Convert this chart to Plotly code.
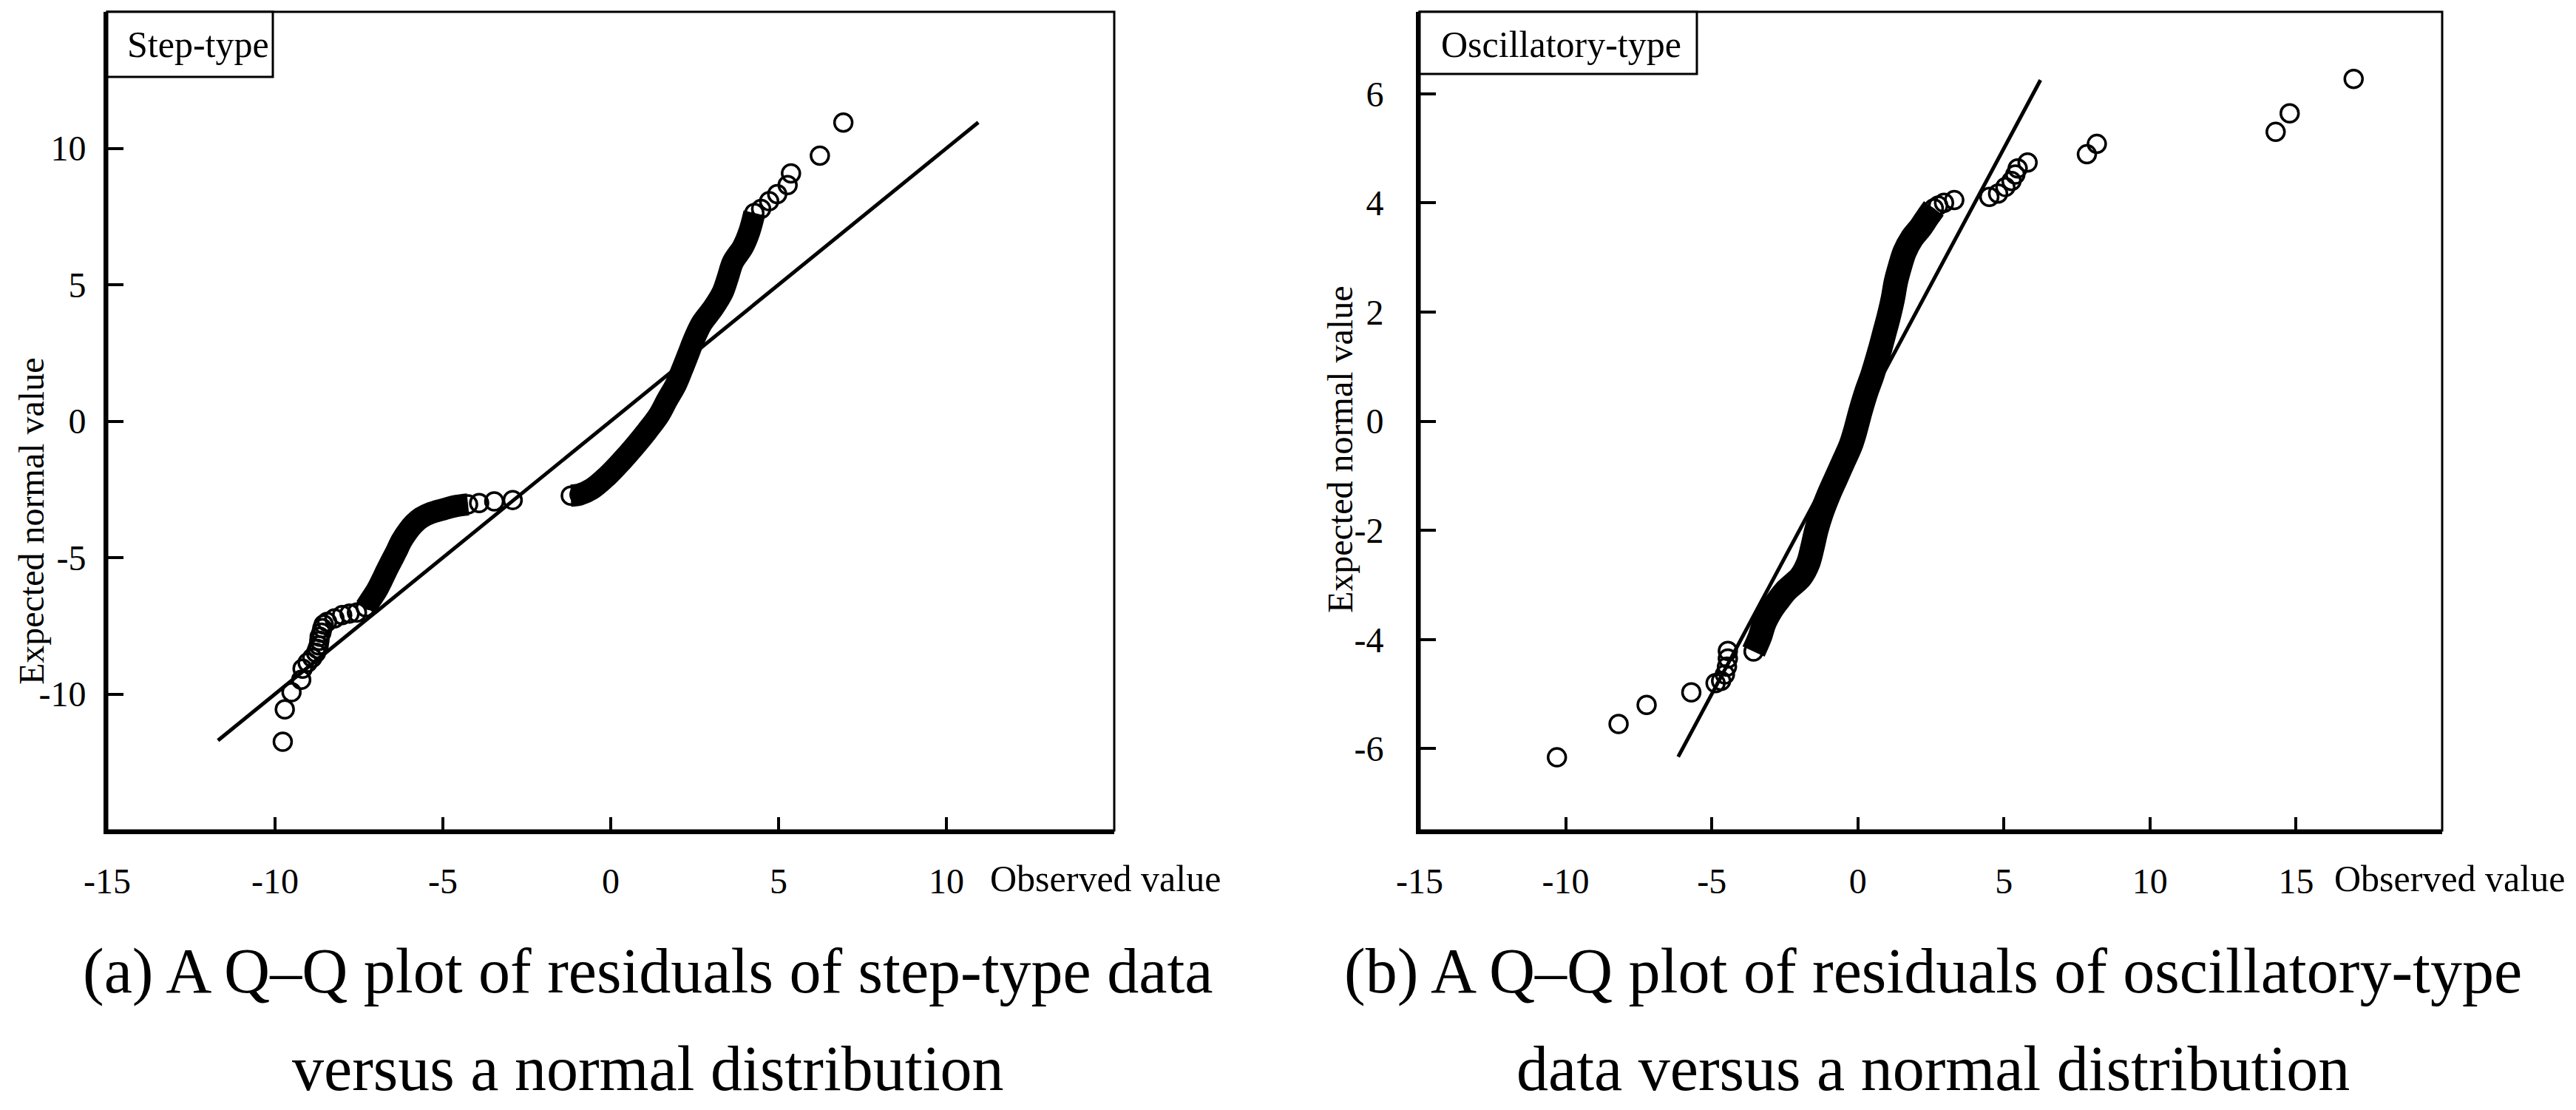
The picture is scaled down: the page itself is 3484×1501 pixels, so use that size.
import plotly.graph_objects as go

# Step-type residuals: dense band (upper cluster), dense band (lower cluster), loose points
step_band_hi_x = [-1.19, -0.93, -0.56, -0.12, 0.32, 0.72, 1.09, 1.43, 1.68, 1.94, 2.13,
                  2.31, 2.49, 2.71, 3.05, 3.33, 3.49, 3.64, 3.94, 4.13, 4.28]
step_band_hi_y = [-2.73, -2.69, -2.48, -2.03, -1.47, -0.91, -0.35, 0.21, 0.78, 1.34, 1.90,
                  2.46, 3.02, 3.58, 4.14, 4.71, 5.27, 5.83, 6.39, 6.95, 7.63]
step_band_lo_x = [-7.30, -7.16, -6.97, -6.82, -6.68, -6.53, -6.38, -6.24, -6.05, -5.87,
                  -5.65, -5.35, -4.98, -4.61, -4.25]
step_band_lo_y = [-6.82, -6.56, -6.20, -5.84, -5.48, -5.12, -4.76, -4.40, -4.04, -3.77,
                  -3.54, -3.36, -3.23, -3.11, -3.05]
step_pts_x = [-9.77, -9.71, -9.51, -9.22, -9.18, -9.03, -8.89, -8.78, -8.74, -8.70, -8.68,
              -8.67, -8.62, -8.59, -8.55, -8.45, -8.23, -8.00, -7.78, -7.56, -3.92, -3.47,
              -2.92, 4.48, 4.72, 4.96, 5.27, 5.37, 6.23, 6.93]
step_pts_y = [-11.75, -10.56, -9.93, -9.48, -9.07, -8.85, -8.67, -8.49, -8.35, -8.22, -8.05,
              -7.90, -7.75, -7.59, -7.45, -7.36, -7.23, -7.11, -7.05, -7.01, -3.00, -2.94,
              -2.89, 7.78, 8.06, 8.32, 8.65, 9.08, 9.73, 10.94]
step_ref_x = [-11.7, 10.95]
step_ref_y = [-11.7, 10.95]

# Oscillatory-type residuals
osc_band_x = [-3.57, -3.35, -3.20, -2.95, -2.75, -2.45, -1.95, -1.70, -1.55, -1.42, -1.25,
              -1.00, -0.75, -0.50, -0.25, -0.10, 0.10, 0.30, 0.50, 0.75, 0.90, 1.05, 1.20,
              1.30, 1.45, 1.60, 1.85, 2.15, 2.40, 2.60]
osc_band_y = [-4.22, -3.95, -3.70, -3.45, -3.30, -3.10, -2.85, -2.60, -2.30, -2.00, -1.70,
              -1.35, -1.05, -0.75, -0.45, -0.20, 0.20, 0.55, 0.85, 1.30, 1.60, 1.90, 2.25,
              2.55, 2.85, 3.10, 3.35, 3.55, 3.75, 3.90]
osc_pts_x = [-10.30, -8.19, -7.23, -5.70, -4.87, -4.68, -4.55, -4.48, -4.45, -4.45, 2.75,
             2.95, 3.30, 4.50, 4.80, 5.05, 5.26, 5.39, 5.47, 5.81, 7.84, 8.18, 14.30, 14.78,
             16.97]
osc_pts_y = [-6.16, -5.55, -5.20, -4.97, -4.80, -4.76, -4.64, -4.50, -4.35, -4.21, 3.95,
             4.00, 4.05, 4.11, 4.17, 4.29, 4.40, 4.52, 4.63, 4.74, 4.89, 5.08, 5.30, 5.64,
             6.27]
osc_ref_x = [-6.15, 6.25]
osc_ref_y = [-6.15, 6.25]

# tick labels
step_xticks = [-15, -10, -5, 0, 5, 10]
step_yticks = [-10, -5, 0, 5, 10]
osc_xticks = [-15, -10, -5, 0, 5, 10, 15]
osc_yticks = [-6, -4, -2, 0, 2, 4, 6]

captions = [
    ["(a) A Q\u2013Q plot of residuals of step-type data", "versus a normal distribution"],
    ["(b) A Q\u2013Q plot of residuals of oscillatory-type", "data versus a normal distribution"],
]

FONT = "Liberation Serif"
W, H, OFF = 3468, 1485, 8


def fx(p):
    return (p - OFF) / W


def fy(p):
    return 1 - (p - OFF) / H


ring = dict(symbol="circle-open", size=24, color="black", line=dict(width=3.5))

fig = go.Figure()
for xa, ya, bands, px_, py_, rx, ry, bw in [
    ("x", "y", [(step_band_hi_x, step_band_hi_y), (step_band_lo_x, step_band_lo_y)],
     step_pts_x, step_pts_y, step_ref_x, step_ref_y, 30),
    ("x2", "y2", [(osc_band_x, osc_band_y)], osc_pts_x, osc_pts_y, osc_ref_x, osc_ref_y, 33),
]:
    fig.add_trace(go.Scatter(x=rx, y=ry, mode="lines", line=dict(color="black", width=5),
                             xaxis=xa, yaxis=ya))
    for bx, by in bands:
        fig.add_trace(go.Scatter(x=bx, y=by, mode="lines+markers", marker=ring,
                                 line=dict(color="black", width=bw, shape="spline"),
                                 xaxis=xa, yaxis=ya))
    fig.add_trace(go.Scatter(x=px_, y=py_, mode="markers", marker=ring, xaxis=xa, yaxis=ya))

tickfont = dict(family=FONT, size=48, color="black")
axis_common = dict(showgrid=False, zeroline=False, showline=True, linecolor="black",
                   linewidth=5, ticks="inside", tickcolor="black", tickwidth=4,
                   tickfont=tickfont, automargin=False)

fig.update_layout(
    width=W, height=H, autosize=False,
    margin=dict(l=0, r=0, t=0, b=0, pad=0),
    paper_bgcolor="white", plot_bgcolor="white",
    showlegend=False,
    xaxis=dict(domain=[fx(145), fx(1507)], range=[-15, 15], anchor="y",
               tickvals=step_xticks, ticktext=[str(v) for v in step_xticks],
               ticklen=18, ticklabelstandoff=22, **axis_common),
    yaxis=dict(domain=[fy(1123), fy(16)], range=[-15, 15], anchor="x",
               tickvals=step_yticks, ticktext=[str(v) for v in step_yticks],
               ticklen=22, ticklabelstandoff=14, **axis_common),
    xaxis2=dict(domain=[fx(1920), fx(3303)], range=[-15, 20], anchor="y2",
                tickvals=osc_xticks, ticktext=[str(v) for v in osc_xticks],
                ticklen=18, ticklabelstandoff=22, **axis_common),
    yaxis2=dict(domain=[fy(1123), fy(16)], range=[-7.5, 7.5], anchor="x2",
                tickvals=osc_yticks, ticktext=[str(v) for v in osc_yticks],
                ticklen=22, ticklabelstandoff=34, **axis_common),
)

# frames around each plot
for xr, yr in [("x", "y"), ("x2", "y2")]:
    fig.add_shape(type="rect", xref=xr + " domain", yref=yr + " domain",
                  x0=0, x1=1, y0=0, y1=1, line=dict(color="black", width=3))
# label boxes in the top-left corners
fig.add_shape(type="rect", xref="paper", yref="paper", x0=fx(145), x1=fx(369),
              y0=fy(104), y1=fy(16), line=dict(color="black", width=3), fillcolor="white")
fig.add_shape(type="rect", xref="paper", yref="paper", x0=fx(1920), x1=fx(2295),
              y0=fy(100), y1=fy(16), line=dict(color="black", width=3), fillcolor="white")

label = dict(family=FONT, size=50, color="black")
fig.add_annotation(text="Step-type", x=fx(170), y=fy(60), xref="paper", yref="paper",
                   xanchor="left", yanchor="middle", showarrow=False, font=label)
fig.add_annotation(text="Oscillatory-type", x=fx(1947), y=fy(60), xref="paper", yref="paper",
                   xanchor="left", yanchor="middle", showarrow=False, font=label)

# axis titles
ytitle_font = dict(family=FONT, size=48, color="black")
for xc, yc in [(42, 705), (1813, 608)]:
    fig.add_annotation(text="Expected normal value", x=fx(xc), y=fy(yc), xref="paper",
                       yref="paper", textangle=-90, showarrow=False, font=ytitle_font,
                       xanchor="center", yanchor="middle")
for xc in [1495, 3313]:
    fig.add_annotation(text="Observed value", x=fx(xc), y=fy(1188), xref="paper",
                       yref="paper", showarrow=False, font=label,
                       xanchor="center", yanchor="middle")

# captions below each panel
cap_font = dict(family=FONT, size=86, color="black")
for xc, lines in zip([876, 2614], captions):
    for yc, txt in zip([1313, 1445], lines):
        fig.add_annotation(text=txt, x=fx(xc), y=fy(yc), xref="paper", yref="paper",
                           showarrow=False, font=cap_font, xanchor="center", yanchor="middle")

fig.write_html("out.html")
